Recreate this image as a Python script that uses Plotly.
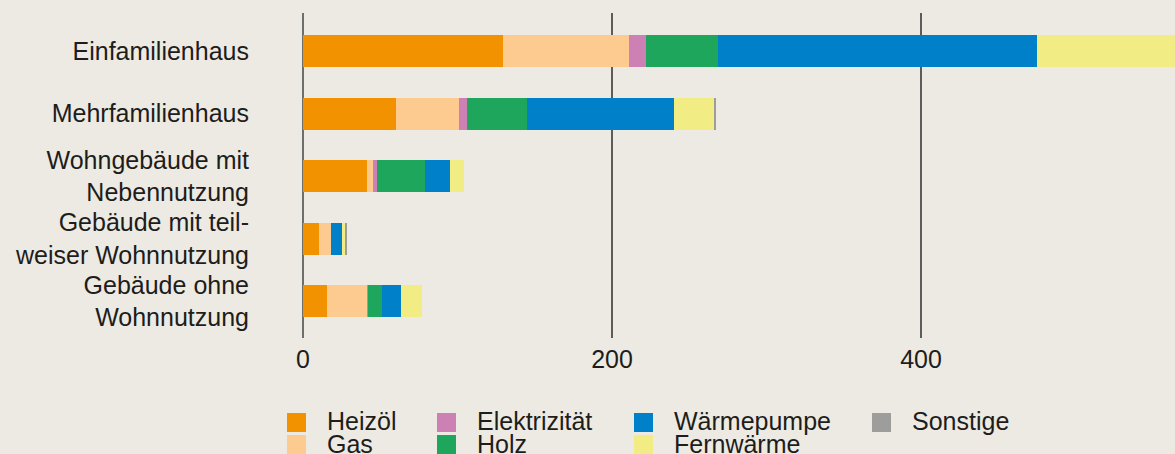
import plotly.graph_objects as go

categories = [
    "Einfamilienhaus",
    "Mehrfamilienhaus",
    "Wohngebäude mit<br>Nebennutzung",
    "Gebäude mit teil-<br>weiser Wohnnutzung",
    "Gebäude ohne<br>Wohnnutzung",
]
series_names = ["Heizöl", "Gas", "Elektrizität", "Holz", "Wärmepumpe", "Fernwärme", "Sonstige"]
heizoel = [129.4, 60.2, 41.4, 10.4, 15.5]
gas = [81.6, 40.8, 3.9, 7.7, 25.9]
elektrizitaet = [11.0, 5.2, 2.6, 0.0, 0.6]
holz = [46.6, 38.8, 31.1, 0.0, 9.1]
waermepumpe = [206.5, 95.0, 16.1, 7.1, 12.3]
fernwaerme = [110.0, 26.0, 9.1, 1.9, 13.6]
sonstige = [3.0, 1.3, 0.0, 1.3, 0.0]
series_values = [heizoel, gas, elektrizitaet, holz, waermepumpe, fernwaerme, sonstige]
colors = ["#F39200", "#FDCB8F", "#CC80B4", "#1EA65D", "#0080C9", "#F2EC85", "#9D9D9C"]
x_ticks = [0, 200, 400]

W, H = 1175, 454
ML, MR, MT, MB = 303, 0, 13, 116
PW, PH = W - ML - MR, H - MT - MB
BG = "#EDEAE3"
TXT = "#1d1d1b"
FONT = "Liberation Sans, Arial, sans-serif"


def px_x(x):
    return (x - ML) / PW


def px_y(y):
    return (H - MB - y) / PH


fig = go.Figure()
for name, vals, col in zip(series_names, series_values, colors):
    fig.add_trace(go.Bar(
        y=categories, x=vals, name=name, orientation="h",
        marker=dict(color=col, line=dict(width=0)),
        showlegend=False, hoverinfo="skip",
    ))

# manual legend (column-major, two rows)
col_x = [287, 437, 634, 872]
row_y = [413, 435]
shapes = []
annotations = []
for i, (name, col) in enumerate(zip(series_names, colors)):
    c, r = i // 2, i % 2
    x0 = col_x[c]
    y0 = row_y[r]
    shapes.append(dict(type="rect", xref="paper", yref="paper",
                       x0=px_x(x0), x1=px_x(x0 + 19), y0=px_y(y0), y1=px_y(y0 + 19),
                       fillcolor=col, line=dict(width=0), layer="above"))
    annotations.append(dict(xref="paper", yref="paper", x=px_x(x0 + 38), y=px_y(y0 + 8.5),
                            xanchor="left", yanchor="middle", showarrow=False, text=name,
                            font=dict(family=FONT, size=25, color=TXT)))

fig.update_layout(
    width=W, height=H,
    margin=dict(l=ML, r=MR, t=MT, b=MB, pad=0),
    paper_bgcolor=BG, plot_bgcolor=BG,
    barmode="stack", bargap=0.488,
    showlegend=False,
    font=dict(family=FONT, size=25, color=TXT),
    shapes=shapes, annotations=annotations,
    xaxis=dict(range=[0, 564.4], tickvals=x_ticks, ticktext=[str(v) for v in x_ticks],
               showgrid=True, gridcolor="#5c5c5a", gridwidth=1.5,
               zeroline=True, zerolinecolor="#6e6e6b", zerolinewidth=2,
               showline=False, ticks="", ticklabelstandoff=4,
               tickfont=dict(family=FONT, size=25, color=TXT)),
    yaxis=dict(type="category", categoryarray=categories, range=[4.592, -0.608],
               showgrid=False, zeroline=False, showline=False, ticks="",
               ticklabelstandoff=53,
               tickfont=dict(family=FONT, size=25, color=TXT)),
)

fig.write_html(
    "out.html",
    config={"displayModeBar": False, "staticPlot": True},
    post_script="document.body.style.margin='0';document.body.style.overflow='hidden';document.body.style.background='" + BG + "';",
)
